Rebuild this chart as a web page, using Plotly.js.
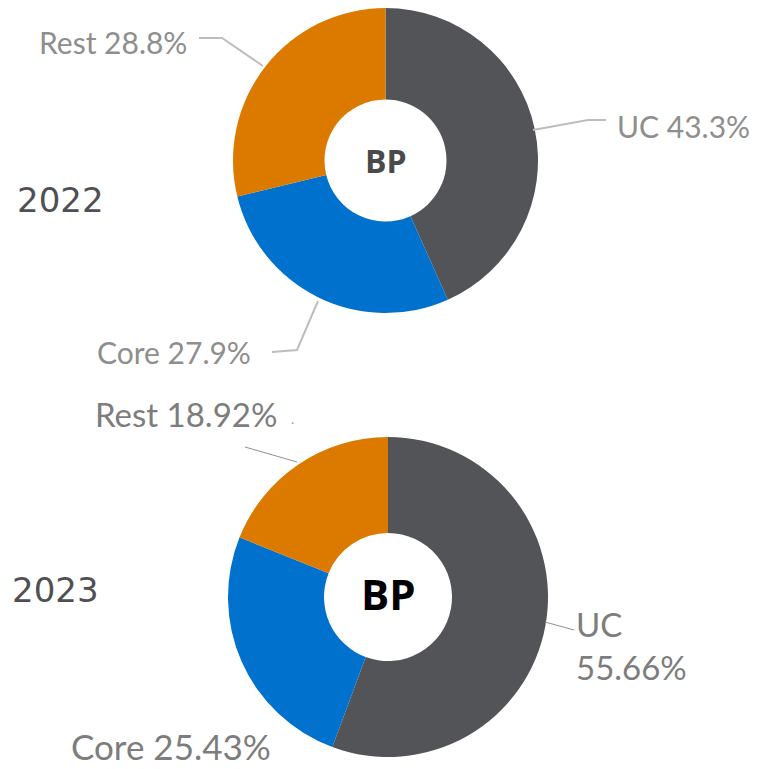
<!DOCTYPE html>
<html>
<head>
<meta charset="utf-8">
<script src="https://cdn.plot.ly/plotly-3.0.1.min.js"></script>
<style>html,body{margin:0;padding:0;background:#fff;}#chart{width:757px;height:769px;}</style>
</head>
<body>
<div id="chart"></div>
<script>
// ---- data ----
const categories = ['UC', 'Core', 'Rest'];
const values2022 = [43.3, 27.9, 28.8];
const values2023 = [55.66, 25.43, 18.92];
const years = ['2022', '2023'];
const centerLabel = 'BP';
const sliceColors = ['#535457', '#0072CE', '#DC7A00'];

// ---- helpers: pixel -> paper ----
const W = 757, H = 769;
const px = x => x / W;
const py = y => 1 - y / H;
function domainFor(cx, cy, r) {
  return { x: [px(cx - r), px(cx + r)], y: [py(cy + r), py(cy - r)] };
}

const pieCommon = {
  type: 'pie',
  labels: categories,
  sort: false,
  direction: 'clockwise',
  rotation: 0,
  hole: 0.40,
  textinfo: 'none',
  hoverinfo: 'label+value',
  showlegend: false,
  marker: { colors: sliceColors, line: { width: 0 } }
};

const traces = [
  Object.assign({}, pieCommon, { values: values2022, domain: domainFor(385.5, 160.5, 152.5) }),
  Object.assign({}, pieCommon, { values: values2023, domain: domainFor(388, 597, 160) })
];

const lbl = (i, vals) => categories[i] + ' ' + vals[i] + '%';
const topFont = { family: 'Lato, "Open Sans", sans-serif', size: 30, color: '#8e8e8e' };
const botFont = { family: 'Lato, "Open Sans", sans-serif', size: 33, color: '#7d7d7d' };
const coreBotFont = { family: 'Lato, "Open Sans", sans-serif', size: 35, color: '#7d7d7d' };
const yearFont = { family: '"DejaVu Sans", sans-serif', size: 34, color: '#505053' };

function ann(text, x, y, font, xanchor) {
  return { text: text, x: px(x), y: py(y), xref: 'paper', yref: 'paper', showarrow: false,
           xanchor: xanchor || 'left', yanchor: 'middle', font: font, align: 'left' };
}

const annotations = [
  // 2022
  ann(lbl(2, values2022), 37, 42, topFont),
  ann(lbl(0, values2022), 615, 126, topFont),
  ann(categories[1] + ' ' + values2022[1] + '%', 95, 352, topFont),
  ann(centerLabel, 385.5, 160, { family: '"Open Sans", sans-serif', size: 32, color: '#4a4a4c', weight: 700 }, 'center'),
  ann(years[0], 15, 200, yearFont),
  // 2023
  ann(lbl(2, values2023), 93, 414, botFont),
  ann(categories[0] + '<br>' + values2023[0] + '%', 574, 645, botFont),
  ann(lbl(1, values2023), 69, 746, coreBotFont),
  ann('.', 289, 418, { family: 'Lato', size: 14, color: '#9a9a9a' }),
  ann(centerLabel, 388, 593, { family: '"Open Sans", sans-serif', size: 42, color: '#000000', weight: 700 }, 'center'),
  ann(years[1], 10, 590, yearFont)
];

function path(points) {
  return 'M ' + points.map(p => px(p[0]) + ',' + py(p[1])).join(' L ');
}
const topLine = { color: '#bdbdbd', width: 2 };
const botLine = { color: '#8f8f8f', width: 1 };
const shapes = [
  { type: 'path', xref: 'paper', yref: 'paper', path: path([[199, 38], [222, 38], [263, 66]]), line: topLine },
  { type: 'path', xref: 'paper', yref: 'paper', path: path([[533, 130], [588, 120], [606, 120]]), line: topLine },
  { type: 'path', xref: 'paper', yref: 'paper', path: path([[272, 352], [297, 350], [318, 301]]), line: topLine },
  { type: 'path', xref: 'paper', yref: 'paper', path: path([[245, 447], [297, 462]]), line: botLine },
  { type: 'path', xref: 'paper', yref: 'paper', path: path([[545, 622], [574, 630]]), line: botLine }
];

const layout = {
  width: W, height: H,
  margin: { l: 0, r: 0, t: 0, b: 0 },
  paper_bgcolor: '#ffffff',
  plot_bgcolor: '#ffffff',
  annotations: annotations,
  shapes: shapes,
  showlegend: false
};

Plotly.newPlot('chart', traces, layout, { staticPlot: true, displayModeBar: false });
</script>
</body>
</html>
